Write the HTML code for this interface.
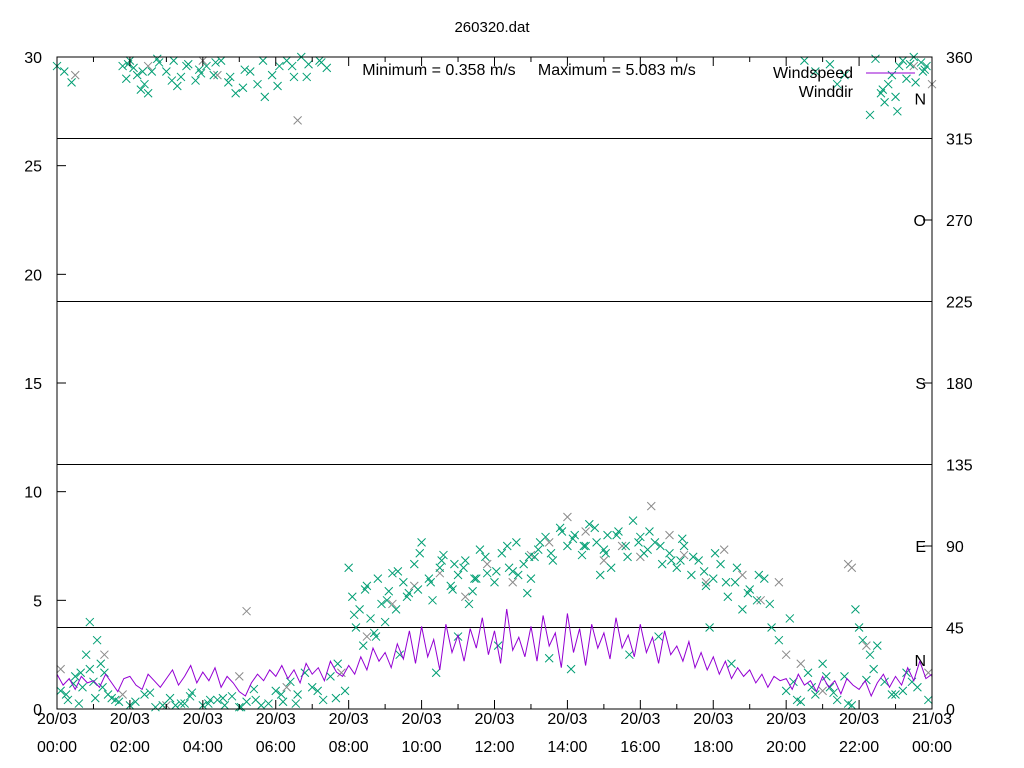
<!DOCTYPE html>
<html><head><meta charset="utf-8"><style>
html,body{margin:0;padding:0;background:#fff;}
svg{display:block;font-family:"Liberation Sans",sans-serif;}
</style></head><body>
<svg id="chart" width="1024" height="768" viewBox="0 0 1024 768">
<text x="492" y="32" font-size="15" text-anchor="middle">260320.dat</text>
<text x="529" y="75" font-size="16" text-anchor="middle" xml:space="preserve">Minimum = 0.358 m/s     Maximum = 5.083 m/s</text>
<g id="grid"></g>
<g id="dirlabels"></g>
<g id="pts-grey"></g>
<g id="pts-teal"></g>
<path id="speed-line" fill="none" stroke="#9400d3" stroke-width="1"></path>
<g id="axes"></g>
<g>
<text x="853" y="78" font-size="16" text-anchor="end">Windspeed</text>
<line x1="866" y1="73" x2="915" y2="73" stroke="#9400d3"></line>
<text x="853" y="97" font-size="16" text-anchor="end">Winddir</text>
</g>
</svg>
<script>
const speedValues=[1.6,1.1,1.4,0.9,1.5,1.2, 1.3,1.0,1.6,1.2,0.8,1.4, 1.5,1.1,0.9,1.6,1.3,1.0, 1.4,1.8,1.1,1.5,2.0,1.2,
1.7,1.3,1.9,1.0,1.5,1.2, 0.8,0.6,1.2,1.6,1.3,1.8, 1.5,2.0,1.4,1.8,1.2,2.1, 1.6,1.9,1.3,2.2,1.7,1.5,
2.0,1.6,2.4,1.8,2.8,2.2, 2.6,1.9,3.0,2.3,3.6,2.1, 3.8,2.4,3.2,1.8,3.9,2.6, 3.4,2.2,3.7,2.8,4.2,2.5,
3.6,2.1,4.6,2.7,3.3,2.4, 3.8,2.2,4.3,2.9,3.5,1.9, 4.4,2.6,3.7,2.0,3.9,2.8, 3.5,2.3,4.2,2.8,3.4,2.4,
3.9,2.6,3.3,2.1,3.6,2.5, 2.9,2.2,3.1,1.9,2.6,1.8, 2.4,1.6,2.2,1.4,1.9,1.5, 1.8,1.2,1.6,1.0,1.5,1.3,
1.4,0.9,1.6,1.1,1.3,0.8, 1.5,1.0,1.3,0.7,1.4,1.1, 0.9,1.3,0.6,1.2,1.6,1.0, 1.5,1.1,1.9,1.3,2.2,1.4,1.6];
const tealHours=[0.0,0.2,0.4,0.1,0.3,0.5,0.7,0.9,0.6,0.8,1.0,1.2,1.4,0.9,1.1,1.3,1.5,
1.8,2.0,2.2,2.4,2.6,2.8,2.3,2.5,1.9,2.1,3.0,3.2,3.4,3.6,3.8,3.3,3.9,4.1,4.3,4.5,4.7,4.9,5.1,5.3,4.4,4.6,3.5,
5.5,5.7,5.9,6.1,6.3,6.5,6.7,6.9,7.2,7.4,5.6,6.0,6.2,6.4,6.6,6.8,7.0,7.3,7.5,7.7,7.9,
1.7,2.0,2.4,2.7,3.1,3.4,3.7,4.0,4.2,4.8,5.0,5.2,5.4,5.8,1.6,2.9,
8.0,8.1,8.2,8.3,8.4,8.5,8.6,8.7,8.8,8.9,9.0,9.1,9.2,9.3,9.5,9.6,9.8,10.0,10.2,10.3,10.5,10.6,10.8,11.0,11.2,11.4,11.6,11.8,
12.0,12.2,12.4,12.6,12.8,13.0,13.2,13.4,13.6,13.8,14.0,14.2,14.4,14.6,14.8,15.0,15.2,15.4,15.6,15.8,16.0,16.2,16.4,16.6,16.8,
17.0,17.2,17.4,17.6,17.8,18.0,18.2,18.4,18.6,18.8,19.0,19.2,19.4,19.6,19.8,
9.4,10.4,11.0,12.1,13.5,14.1,15.7,16.5,18.5,17.9,
9.9,10.9,11.5,12.5,13.1,14.5,15.1,16.1,17.1,11.3,12.9,14.9,
20.0,20.2,20.4,20.6,20.8,21.0,21.2,21.4,21.6,21.8,22.0,21.9,22.3,22.5,22.7,23.0,23.3,23.6,23.9,22.1,
22.3,22.6,22.8,22.9,23.0,23.1,23.2,23.4,23.5,23.7,23.8,22.7,23.3,20.5,20.8,21.2,21.4,21.6,
0.25,0.45,0.65,1.05,1.25,2.15,2.55,3.25,3.65,4.15,4.55,5.05,5.45,6.15,6.55,7.15,7.65,
1.95,2.35,2.75,3.15,3.55,3.95,4.35,4.75,5.15,5.65,6.05,6.45,6.85,7.25,
8.15,8.45,8.75,9.05,9.35,9.65,9.95,10.25,10.55,10.85,11.15,11.45,11.75,12.05,12.35,12.65,12.95,
13.25,13.55,13.85,14.15,14.45,14.75,15.05,15.35,15.65,15.95,16.25,16.55,16.85,17.15,17.45,17.75,18.05,18.35,18.65,18.95,19.25,19.55,
20.1,20.3,20.7,21.1,21.3,21.7,22.2,22.4,22.9,23.2,23.45,23.75,22.45,22.65,23.05,23.55,23.85];
const tealDeg=[355,352,346,10,5,18,12,22,3,30,15,25,8,48,38,20,6,
355,358,350,345,352,357,342,340,348,354,352,358,349,356,347,344,353,355,350,358,346,340,343,352,5,2,3,
345,338,350,355,358,349,360,356,358,354,2,10,4,15,8,20,12,5,18,25,10,
4,2,8,1,6,3,9,2,5,7,1,4,11,3,5,2,
78,62,45,55,35,68,50,42,72,58,48,65,75,55,70,62,80,92,72,60,78,85,68,74,82,65,88,75,
70,86,78,92,80,72,88,95,82,100,90,96,85,102,92,88,78,98,90,104,95,88,92,80,86,
78,90,74,82,68,72,80,62,70,55,66,60,72,45,38,
30,20,40,35,28,22,30,40,25,45,
66,80,72,76,84,90,96,86,82,58,64,74,
10,15,4,20,8,25,12,5,18,2,45,55,30,35,15,8,20,12,5,38,
328,340,345,350,338,355,358,356,360,357,353,335,348,358,352,356,345,350,
8,14,20,6,12,4,9,2,7,3,6,1,5,8,3,10,6,
356,352,359,347,355,351,357,349,353,358,344,355,349,357,
52,66,40,60,76,64,86,70,82,66,78,72,84,76,90,74,84,
92,86,98,94,90,100,86,96,84,92,98,90,82,94,84,76,86,70,78,64,74,58,50,
5,12,18,9,3,16,22,8,10,15,352,359,342,330,346,355,358];
const greyHours=[0.1,0.5,1.3,1.8,2.5,3.0,4.0,4.4,5.2,5.0,6.3,7.8,8.5,9.2,9.8,10.5,11.2,11.8,12.5,13.0,13.5,14.0,14.5,15.0,15.5,16.0,16.3,16.8,17.2,17.8,18.3,18.8,19.3,19.8,20.0,20.4,21.0,21.7,21.8,22.2,23.5,24.0,23.9,6.6];
const greyDeg=[22,350,30,8,355,2,358,350,54,18,12,20,40,58,68,75,62,80,70,85,92,106,98,82,90,84,112,96,85,70,88,74,60,70,30,25,10,80,78,35,355,345,20,325];
const xTickLabels=["00:00","02:00","04:00","06:00","08:00","10:00","12:00","14:00","16:00","18:00","20:00","22:00","00:00"];
const xDateLabels=["20/03","20/03","20/03","20/03","20/03","20/03","20/03","20/03","20/03","20/03","20/03","20/03","21/03"];
const yLeftTicks=[0,5,10,15,20,25,30];
const yRightTicks=[0,45,90,135,180,225,270,315,360];
const dirLabels=[["N",337],["O",270],["S",180],["E",90],["N",27]];

const X0=57,X1=932,Y0=709,Y1=57,NS="http://www.w3.org/2000/svg";
const xs=h=>X0+(X1-X0)*h/24;
const ys=v=>Y0-(Y0-Y1)*v/30;
const yd=d=>Y0-(Y0-Y1)*d/360;
function mk(tag,attrs,parent){const e=document.createElementNS(NS,tag);for(const k in attrs)e.setAttribute(k,attrs[k]);parent.appendChild(e);return e;}

const grid=document.getElementById('grid');
[45,135,225,315].forEach(d=>{
  const l=mk('line',{x1:X0,x2:X1,y1:yd(d),y2:yd(d),stroke:'#000','stroke-width':1},grid);
  
  
});
const dl=document.getElementById('dirlabels');
dirLabels.forEach(p=>{
  const t=mk('text',{x:926,y:yd(p[1])+6,'font-size':16,'text-anchor':'end'},dl);
  t.textContent=p[0];
  
  
});

function cross(g,x,y,c,name){
  const p=mk('path',{d:`M${x-4} ${y-4}L${x+4} ${y+4}M${x-4} ${y+4}L${x+4} ${y-4}`,stroke:c,'stroke-width':1,fill:'none'},g);
  
  
}
const gg=document.getElementById('pts-grey');
greyHours.forEach((h,i)=>cross(gg,xs(h),yd(greyDeg[i]),'#8a8a8a','grey-dir-point'));
const gt=document.getElementById('pts-teal');
tealHours.forEach((h,i)=>cross(gt,xs(h),yd(tealDeg[i]),'#009e73','winddir-point'));

let d='';
speedValues.forEach((v,i)=>{const h=i*24/(speedValues.length-1);d+=(i?'L':'M')+xs(h).toFixed(1)+' '+ys(v).toFixed(1);});
document.getElementById('speed-line').setAttribute('d',d);

const ax=document.getElementById('axes');
const fr=mk('rect',{x:X0,y:Y1,width:X1-X0,height:Y0-Y1,fill:'none',stroke:'#000','stroke-width':1},ax);


yLeftTicks.forEach(v=>{
  mk('line',{x1:X0,x2:X0+9,y1:ys(v),y2:ys(v),stroke:'#000'},ax);
  const t=mk('text',{x:42,y:ys(v)+6,'font-size':16,'text-anchor':'end'},ax);
  t.textContent=v;
  
  
});
yRightTicks.forEach(v=>{
  mk('line',{x1:X1-9,x2:X1,y1:yd(v),y2:yd(v),stroke:'#000'},ax);
  const t=mk('text',{x:946,y:yd(v)+6,'font-size':16,'text-anchor':'start'},ax);
  t.textContent=v;
  
  
});
for(let h=0;h<=24;h++){
  const len=h%2?5:9;
  mk('line',{x1:xs(h),x2:xs(h),y1:Y0,y2:Y0-len,stroke:'#000'},ax);
  mk('line',{x1:xs(h),x2:xs(h),y1:Y1,y2:Y1+len,stroke:'#000'},ax);
}
xTickLabels.forEach((lab,i)=>{
  const x=xs(i*2);
  const t1=mk('text',{x:x,y:724,'font-size':16,'text-anchor':'middle'},ax);
  t1.textContent=xDateLabels[i];
  
  
  const t2=mk('text',{x:x,y:752,'font-size':16,'text-anchor':'middle'},ax);
  t2.textContent=lab;
  
  
});
</script>
</body></html>
